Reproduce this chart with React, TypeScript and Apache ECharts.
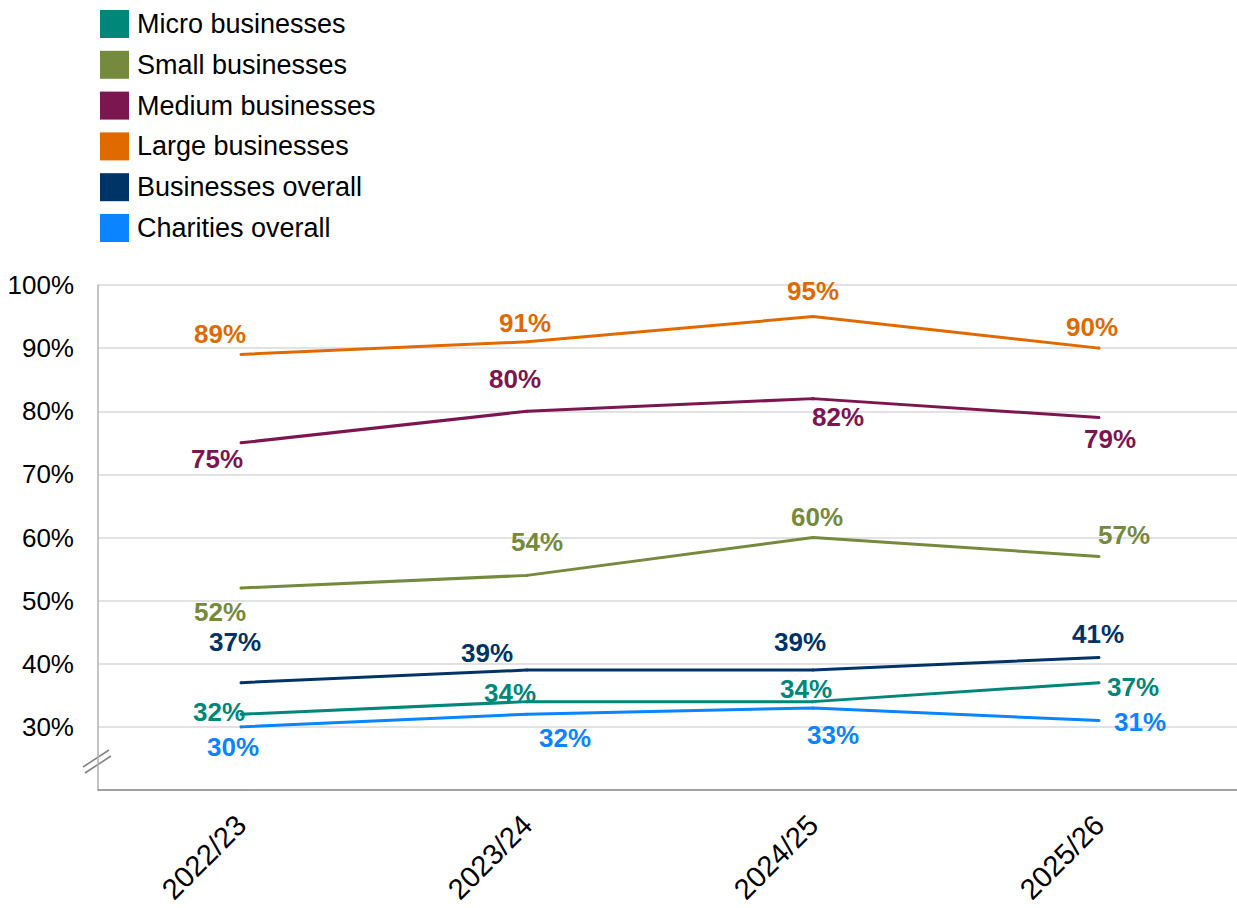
import React, { useEffect, useRef } from "react";
import * as echarts from "echarts";

const categories = ["2022/23", "2023/24", "2024/25", "2025/26"];
const seriesNames = [
  "Micro businesses",
  "Small businesses",
  "Medium businesses",
  "Large businesses",
  "Businesses overall",
  "Charities overall",
];
const micro = [32, 34, 34, 37];
const small = [52, 54, 60, 57];
const medium = [75, 80, 82, 79];
const large = [89, 91, 95, 90];
const overall = [37, 39, 39, 41];
const charities = [30, 32, 33, 31];
const yTicks = [20, 30, 40, 50, 60, 70, 80, 90, 100];

const colors = ["#00877a", "#758a3c", "#7c1650", "#e06a00", "#003366", "#0a84ff"];
const FONT = "'Liberation Sans', Arial, sans-serif";

// label offsets (px) relative to each point, per series
const labelOffsets: number[][][] = [
  [[-22, -2], [-17, -9], [-7, -13], [34, 4]],
  [[-21, 24], [10, -33], [4, -21], [25, -21]],
  [[-24, 16], [-12, -32], [25, 18], [11, 21]],
  [[-21, -20], [-2, -19], [0, -26], [-7, -21]],
  [[-6, -41], [-40, -17], [-13, -28], [-1, -23]],
  [[-8, 20], [38, 24], [20, 27], [41, 1]],
];

export default function App() {
  const ref = useRef<HTMLDivElement>(null);
  useEffect(() => {
    if (!ref.current) return;
    const chart = echarts.init(ref.current, null, { renderer: "svg" });
    const allData = [micro, small, medium, large, overall, charities];
    const series = allData.map((vals, si) => ({
      name: seriesNames[si],
      type: "line",
      data: vals.map((v, i) => ({
        value: v,
        label: {
          show: true,
          position: "inside",
          offset: labelOffsets[si][i],
        },
      })),
      symbol: "circle",
      symbolSize: 3,
      showSymbol: true,
      lineStyle: { width: 3, color: colors[si] },
      itemStyle: { color: colors[si] },
      label: {
        show: true,
        position: "inside",
        formatter: "{c}%",
        color: colors[si],
        fontSize: 26,
        fontWeight: "bold",
        fontFamily: FONT,
      },
      z: 3,
    }));
    chart.setOption({
      animation: false,
      backgroundColor: "#ffffff",
      color: colors,
      legend: {
        orient: "vertical",
        left: 95,
        top: 5,
        itemWidth: 29,
        itemHeight: 28,
        itemGap: 12.8,
        icon: "rect",
        textStyle: { fontSize: 27, color: "#000", fontFamily: FONT, padding: [0, 0, 0, 3] },
        data: seriesNames,
      },
      grid: { left: 98, top: 285, height: 505, width: 1144, containLabel: false },
      xAxis: {
        type: "category",
        data: categories,
        boundaryGap: true,
        axisLine: { lineStyle: { color: "#8c8c8c", width: 1.5 } },
        axisTick: { alignWithLabel: true, length: 7, lineStyle: { color: "#b0b0b0", width: 1.5 } },
        axisLabel: {
          rotate: 45,
          fontSize: 29,
          color: "#000",
          fontFamily: FONT,
          margin: 30,
        },
      },
      yAxis: {
        type: "value",
        min: yTicks[0],
        max: yTicks[yTicks.length - 1],
        interval: 10,
        axisLine: { show: true, lineStyle: { color: "#b0b0b0", width: 1.5 } },
        axisTick: { show: false },
        splitLine: { lineStyle: { color: "#d9d9d9", width: 1.5 } },
        axisLabel: {
          fontSize: 26,
          color: "#000",
          fontFamily: FONT,
          margin: 24,
          formatter: (v: number) => (v === yTicks[0] ? "" : v + "%"),
        },
      },
      graphic: [
        {
          type: "line",
          shape: { x1: 83, y1: 767, x2: 109, y2: 750 },
          style: { stroke: "#808080", lineWidth: 1.5 },
        },
        {
          type: "line",
          shape: { x1: 85, y1: 773, x2: 111, y2: 756 },
          style: { stroke: "#808080", lineWidth: 1.5 },
        },
      ],
      series,
    });
    return () => chart.dispose();
  }, []);
  return (
    <div
      style={{
        position: "absolute",
        left: 0,
        top: 0,
        width: 1237,
        height: 908,
        overflow: "hidden",
      }}
    >
      <div ref={ref} style={{ width: 1250, height: 908 }} />
    </div>
  );
}
